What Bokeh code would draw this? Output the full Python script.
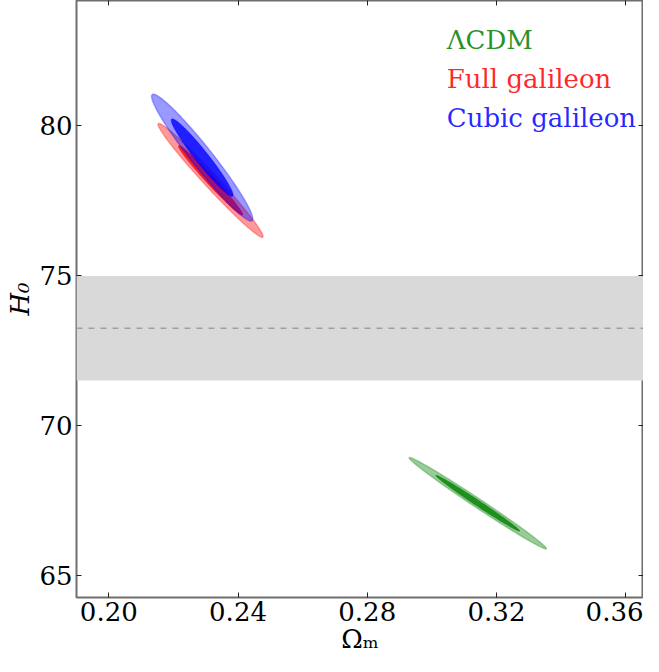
import numpy as np
from bokeh.plotting import figure
from bokeh.models import BoxAnnotation, Span, Label, LinearAxis, FixedTicker, Range1d
from bokeh.embed import file_html
from bokeh.resources import INLINE

# ---------------- data ----------------
models = ["ΛCDM", "Full galileon", "Cubic galileon"]
om_mean = [0.3142, 0.2315, 0.2289]
h0_mean = [67.41, 78.17, 78.93]
om_sigma = [0.00855, 0.00654, 0.0063]
h0_sigma = [0.613, 0.764, 0.85]
corr = [-0.993, -0.984, -0.965]
delta_chi2 = [6.18, 2.30]          # 95% and 68% contours (2 params)
h0_local = 73.24
h0_local_lo = 71.5
h0_local_hi = 74.98
x_ticks = [0.20, 0.24, 0.28, 0.32, 0.36]
x_tick_labels = ["0.20", "0.24", "0.28", "0.32", "0.36"]
y_ticks = [65, 70, 75, 80]
y_tick_labels = ["65", "70", "75", "80"]
x_label = "Ωₘ"
y_label = "H₀"

# ---------------- style ----------------
colors = ["#008000", "#ff0000", "#0000ff"]
fill_alphas = [0.4, 0.8]
FONT = "DejaVu Serif"

p = figure(width=643, height=656,
           x_range=Range1d(0.19, 0.3655), y_range=Range1d(64.267, 84.167),
           output_backend="svg", toolbar_location=None,
           min_border_left=76, min_border_right=0,
           min_border_top=0, min_border_bottom=10)
p.grid.visible = False
p.outline_line_color = "#6e6e6e"
p.outline_line_width = 2
p.background_fill_color = "white"

p.add_layout(BoxAnnotation(bottom=h0_local_lo, top=h0_local_hi,
                           fill_color="#d9d9d9", fill_alpha=1.0,
                           line_color=None, level="underlay"))
p.add_layout(Span(location=h0_local, dimension="width", line_color="#a0a0a0",
                  line_dash="6 6", line_width=1.5, level="underlay"))


def contour(mx, my, sx, sy, r, d2, n=240):
    cov = np.array([[sx * sx, r * sx * sy], [r * sx * sy, sy * sy]])
    L = np.linalg.cholesky(cov)
    t = np.linspace(0, 2 * np.pi, n)
    pts = np.sqrt(d2) * (L @ np.vstack([np.cos(t), np.sin(t)]))
    return mx + pts[0], my + pts[1]


for i in range(len(models)):
    for j, d2 in enumerate(delta_chi2):
        xs, ys = contour(om_mean[i], h0_mean[i], om_sigma[i], h0_sigma[i], corr[i], d2)
        if j == 0:
            p.patch(xs, ys, fill_color=colors[i], fill_alpha=fill_alphas[j],
                    line_color=colors[i], line_alpha=0.3, line_width=1.5)
        else:
            p.patch(xs, ys, fill_color=colors[i], fill_alpha=fill_alphas[j],
                    line_color=colors[i], line_alpha=0.5, line_width=1)


def style_axis(ax, show_labels):
    ax.axis_line_color = None
    ax.major_tick_in = 5
    ax.major_tick_out = 0
    ax.minor_tick_in = 0
    ax.minor_tick_out = 0
    ax.major_tick_line_color = "#222222"
    ax.major_tick_line_width = 1
    ax.major_label_text_font = FONT
    ax.major_label_text_font_size = "26px" if show_labels else "0px"
    ax.major_label_text_color = "black" if show_labels else None


p.xaxis.ticker = FixedTicker(ticks=x_ticks)
p.xaxis.major_label_overrides = dict(zip(x_ticks, x_tick_labels))
p.yaxis.ticker = FixedTicker(ticks=y_ticks)
p.yaxis.major_label_overrides = dict(zip(y_ticks, y_tick_labels))
style_axis(p.xaxis[0], True)
style_axis(p.yaxis[0], True)
p.xaxis.major_label_standoff = 4
p.yaxis.major_label_standoff = 4

p.xaxis.axis_label = x_label
p.xaxis.axis_label_text_font = FONT
p.xaxis.axis_label_text_font_style = "normal"
p.xaxis.axis_label_text_font_size = "26px"
p.xaxis.axis_label_standoff = 0
p.xaxis.axis_label_text_color = "black"

p.yaxis.axis_label = y_label
p.yaxis.axis_label_text_font = FONT
p.yaxis.axis_label_text_font_style = "italic"
p.yaxis.axis_label_text_font_size = "26px"
p.yaxis.axis_label_standoff = 1
p.yaxis.axis_label_text_color = "black"

top = LinearAxis(ticker=FixedTicker(ticks=x_ticks), major_label_standoff=0)
right = LinearAxis(ticker=FixedTicker(ticks=y_ticks), major_label_standoff=0)
style_axis(top, False)
style_axis(right, False)
p.add_layout(top, "above")
p.add_layout(right, "right")

# legend texts
leg_y = [82.86, 81.55, 80.24]
for i, name in enumerate(models):
    p.add_layout(Label(x=0.3046, y=leg_y[i], text=name, text_color=colors[i],
                       text_alpha=0.85, text_font=FONT, text_font_size="26px",
                       text_baseline="alphabetic", text_align="left"))

open("out.html", "w").write(file_html(p, INLINE))
